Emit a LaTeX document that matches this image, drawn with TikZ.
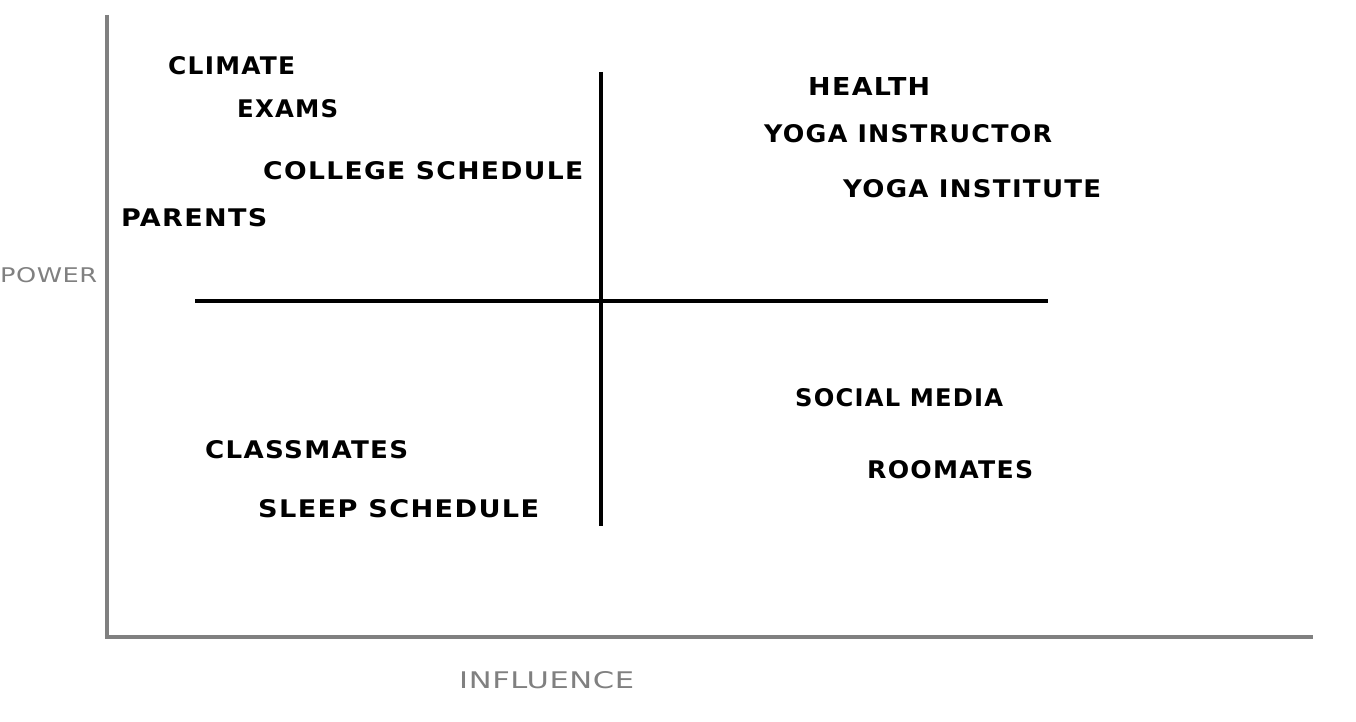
\documentclass[tikz,border=0pt]{standalone}
\usepackage{fontspec}
\setmainfont{DejaVu Sans}
\newfontfamily\lblfont[LetterSpace=5]{DejaVu Sans}
\newfontfamily\axisfont[LetterSpace=2]{DejaVu Sans}
\definecolor{axisgray}{HTML}{808080}

% a label stretched to a given width, with a fixed cap height
\newcommand\fitlabel[2]{\resizebox{#1}{18pt}{\lblfont\bfseries #2}}
\newcommand\fitaxis[3]{\resizebox{#1}{#2}{\axisfont #3}}

\tikzset{
  lbl/.style={inner sep=0pt, anchor=west, text=black},
  axislbl/.style={inner sep=0pt, anchor=west, text=axisgray},
  axisline/.style={draw=axisgray, line width=4.5pt},
  divider/.style={draw=black, line width=4.5pt},
}

\begin{document}
\begin{tikzpicture}[x=1pt, y=-1pt]
  \useasboundingbox (0,0) rectangle (1356,722);

  % main axes
  \coordinate (ytop) at (107,15);
  \coordinate (origin) at (107,637);
  \coordinate (xend) at (1313,637);
  \draw[axisline] (ytop) -- (107,639.25) (104.75,637) -- (xend);

  % quadrant dividers
  \coordinate (vtop) at (601,72);
  \coordinate (vbot) at (601,526);
  \coordinate (hleft) at (195,301);
  \coordinate (hright) at (1048,301);
  \draw[divider] (vtop) -- (vbot);
  \draw[divider] (hleft) -- (hright);

  % axis titles
  \node[axislbl] (power) at (0,275) {\fitaxis{97pt}{15pt}{POWER}};
  \node[axislbl] (influence) at (459,680) {\fitaxis{175pt}{17pt}{INFLUENCE}};

  % high power, low influence
  \node[lbl] (climate) at (168,66) {\fitlabel{127pt}{CLIMATE}};
  \node[lbl] (exams) at (237,109) {\fitlabel{101pt}{EXAMS}};
  \node[lbl] (college) at (263,171) {\fitlabel{320pt}{COLLEGE SCHEDULE}};
  \node[lbl] (parents) at (121,218) {\fitlabel{146pt}{PARENTS}};

  % high power, high influence
  \node[lbl] (health) at (808,87) {\fitlabel{122pt}{HEALTH}};
  \node[lbl] (instructor) at (764,134) {\fitlabel{288pt}{YOGA INSTRUCTOR}};
  \node[lbl] (institute) at (843,189) {\fitlabel{258pt}{YOGA INSTITUTE}};

  % low power, low influence
  \node[lbl] (classmates) at (205,450) {\fitlabel{203pt}{CLASSMATES}};
  \node[lbl] (sleep) at (258,509) {\fitlabel{281pt}{SLEEP SCHEDULE}};

  % low power, high influence
  \node[lbl] (social) at (795,398) {\fitlabel{208pt}{SOCIAL MEDIA}};
  \node[lbl] (roomates) at (867,470) {\fitlabel{166pt}{ROOMATES}};
\end{tikzpicture}
\end{document}
